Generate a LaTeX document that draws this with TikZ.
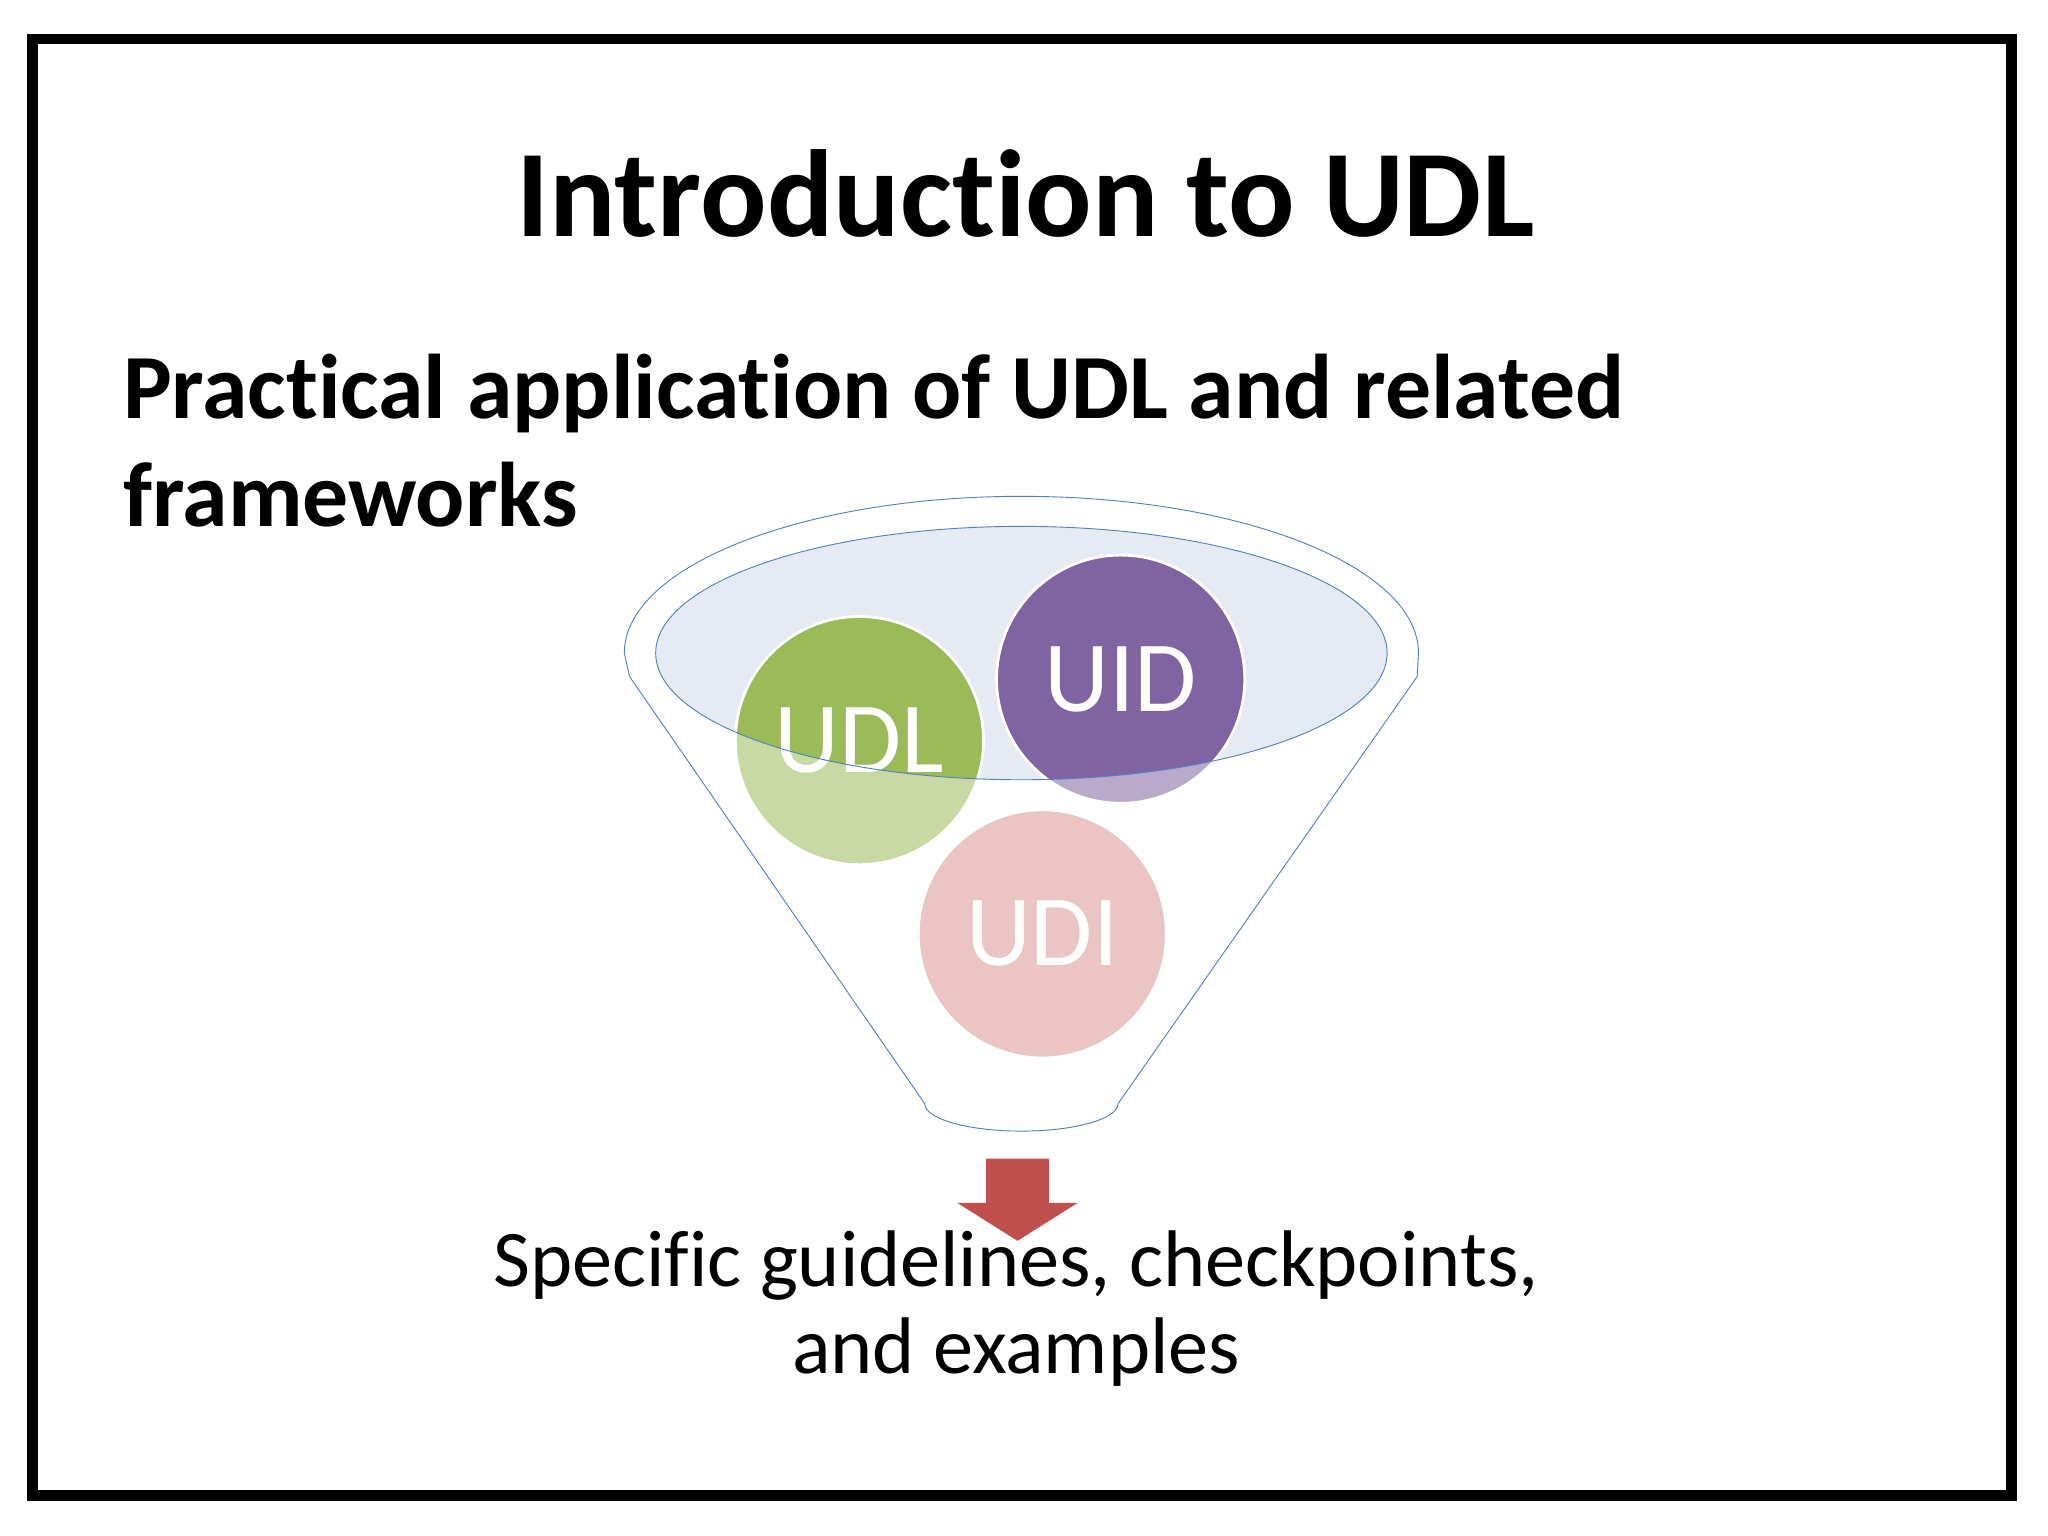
\documentclass[tikz,border=0pt]{standalone}
\usepackage{fontspec}
\setmainfont{Carlito}[Ligatures=NoCommon]
\usetikzlibrary{positioning}
\definecolor{UdlGreen}{HTML}{9BBB59}
\definecolor{UidPurple}{HTML}{8064A2}
\definecolor{UdiPink}{HTML}{D99694}
\definecolor{ArrowRed}{HTML}{C0504D}
\definecolor{FunnelLine}{HTML}{4F81BD}
\definecolor{FunnelFill}{HTML}{E6EBF3}
\begin{document}
\begin{tikzpicture}[x=0.02cm,y=-0.02cm,
    ball/.style={shape=circle,minimum size=190*0.02cm,inner sep=0pt,
      draw=white,line width=1.2pt,text=white,font=\fontsize{44}{44}\selectfont}]
    \path [use as bounding box] (0,0) rectangle (1568,1176);
    \draw[line width=0.16cm] (25,30) rectangle (1540,1145);

    \node[name=title,font=\bfseries\fontsize{54}{60}\selectfont] at (785,148) {Introduction to UDL};
    \node[name=sub,anchor=north west,align=left,
      font=\bfseries\fontsize{40}{47}\selectfont] at (88,265)
      {Practical application of UDL and related\\frameworks};

    % funnel top
    \fill[FunnelFill] (782,500) ellipse [x radius=280,y radius=97];

    % balls
    \node[name=udl,ball,fill=UdlGreen] at (658,567) {UDL};
    \node[name=uid,ball,fill=UidPurple] at (858,520) {UID};
    \node[name=udi,ball,fill=UdiPink] at (798,715) {UDI};

    % funnel
    \fill[white,opacity=0.45]
      (502,500) -- (482,518) -- (708,845)
      arc[start angle=180,end angle=0,x radius=74,y radius=21]
      -- (1085,518) -- (1062,500)
      arc[start angle=0,end angle=180,x radius=280,y radius=97] -- cycle;
    \draw[FunnelLine] (782,500) ellipse [x radius=280,y radius=97];
    \draw[FunnelLine] (482,518) -- (478,500)
      arc[start angle=180,end angle=360,x radius=304,y radius=120] -- (1085,518);
    \draw[FunnelLine] (482,518) -- (708,845)
      arc[start angle=180,end angle=0,x radius=74,y radius=21] -- (1085,518);

    \coordinate (tip) at (779,950);
    \fill[ArrowRed] (755,887) -- (803,887) -- (803,921) -- (825,921) -- (tip)
      -- (733,921) -- (755,921) -- cycle;

    \node[name=result,anchor=north,align=center,
      font=\fontsize{35}{38}\selectfont] at (778,936)
      {Specific guidelines, checkpoints,\\and examples};
\end{tikzpicture}
\end{document}
